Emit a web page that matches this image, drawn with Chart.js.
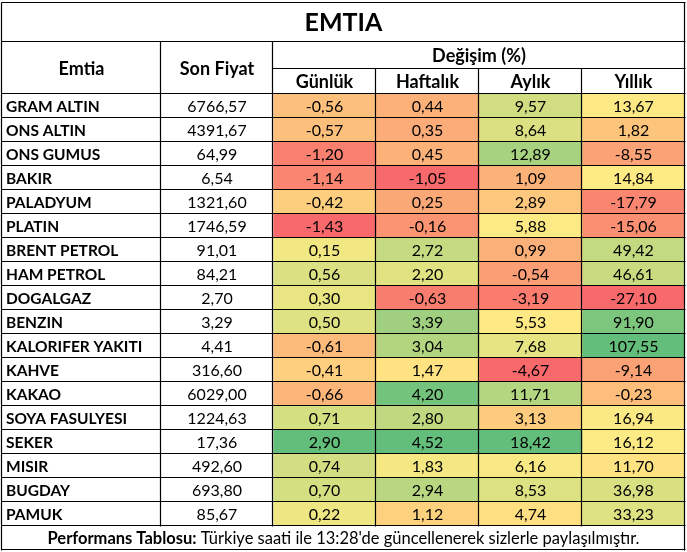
<!DOCTYPE html>
<html><head><meta charset="utf-8">
<script src="https://cdn.jsdelivr.net/npm/chart.js@4"></script>
<style>html,body{margin:0;padding:0;background:#fff;}canvas{display:block}</style>
</head><body>
<canvas id="c" width="687" height="552"></canvas>
<script>
const title = 'EMTIA';
const headerGroup = 'Değişim (%)';
const columnHeaders = ['Emtia', 'Son Fiyat', 'Günlük', 'Haftalık', 'Aylık', 'Yıllık'];
const footerBold = 'Performans Tablosu:';
const footerText = " Türkiye saati ile 13:28'de güncellenerek sizlerle paylaşılmıştır.";

const emtia = ['GRAM ALTIN','ONS ALTIN','ONS GUMUS','BAKIR','PALADYUM','PLATIN','BRENT PETROL','HAM PETROL','DOGALGAZ','BENZIN','KALORIFER YAKITI','KAHVE','KAKAO','SOYA FASULYESI','SEKER','MISIR','BUGDAY','PAMUK'];
const sonFiyat = [6766.57,4391.67,64.99,6.54,1321.60,1746.59,91.01,84.21,2.70,3.29,4.41,316.60,6029.00,1224.63,17.36,492.60,693.80,85.67];
const gunluk = [-0.56,-0.57,-1.20,-1.14,-0.42,-1.43,0.15,0.56,0.30,0.50,-0.61,-0.41,-0.66,0.71,2.90,0.74,0.70,0.22];
const haftalik = [0.44,0.35,0.45,-1.05,0.25,-0.16,2.72,2.20,-0.63,3.39,3.04,1.47,4.20,2.80,4.52,1.83,2.94,1.12];
const aylik = [9.57,8.64,12.89,1.09,2.89,5.88,0.99,-0.54,-3.19,5.53,7.68,-4.67,11.71,3.13,18.42,6.16,8.53,4.74];
const yillik = [13.67,1.82,-8.55,14.84,-17.79,-15.06,49.42,46.61,-27.10,91.90,107.55,-9.14,-0.23,16.94,16.12,11.70,36.98,33.23];

// layout (column boundaries in scale units)
const colEdges = [0, 159, 271, 374, 477, 580, 683];
const FONT = 'Lato';

function fmt(v) { return v.toFixed(2).replace('.', ','); }
function median(a) { const s = [...a].sort((x, y) => x - y); const n = s.length; return n % 2 ? s[(n - 1) / 2] : (s[n / 2 - 1] + s[n / 2]) / 2; }
const RED = [248, 105, 107], YEL = [255, 235, 132], GRN = [99, 190, 123];
function scaleColor(v, arr) {
  const mn = Math.min(...arr), mx = Math.max(...arr), md = median(arr);
  let a, b, t;
  if (v <= md) { a = RED; b = YEL; t = md === mn ? 1 : (v - mn) / (md - mn); }
  else { a = YEL; b = GRN; t = mx === md ? 0 : (v - md) / (mx - md); }
  const c = a.map((x, i) => Math.round(x + (b[i] - x) * t));
  return 'rgb(' + c.join(',') + ')';
}

const columns = [
  { texts: emtia, values: null, align: 'left', bold: true },
  { texts: sonFiyat.map(fmt), values: null },
  { texts: gunluk.map(fmt), values: gunluk },
  { texts: haftalik.map(fmt), values: haftalik },
  { texts: aylik.map(fmt), values: aylik },
  { texts: yillik.map(fmt), values: yillik },
];

const datasets = columns.map((col, c) => ({
  data: emtia.map(() => [colEdges[c], colEdges[c + 1]]),
  backgroundColor: col.values ? col.values.map(v => scaleColor(v, col.values)) : '#ffffff',
  borderWidth: 0,
  grouped: false,
  barPercentage: 1,
  categoryPercentage: 1,
}));

const tablePlugin = {
  id: 'tablePlugin',
  afterDraw(chart) {
    const ctx = chart.ctx;
    const xs = chart.scales.x, ys = chart.scales.y;
    const X = e => xs.getPixelForValue(e);
    const Y = i => ys.getPixelForValue(i);
    const left = X(colEdges[0]), right = X(colEdges[6]);
    const rowBottom = Y(emtia.length - 0.5);
    const tableTop = 3, titleBottom = 42, groupBottom = 69, tableBottom = 550;
    ctx.save();
    ctx.fillStyle = '#000';
    ctx.textBaseline = 'middle';
    // cell texts
    columns.forEach((col, c) => {
      const meta = chart.getDatasetMeta(c);
      ctx.font = (col.bold ? 'bold 15.5px ' : '16px ') + FONT;
      meta.data.forEach((el, i) => {
        const p = el.getProps(['x', 'base', 'y'], true);
        const l = Math.min(p.x, p.base), r = Math.max(p.x, p.base);
        if (col.align === 'left') { ctx.textAlign = 'left'; ctx.fillText(col.texts[i], l + 4, p.y + 1); }
        else { ctx.textAlign = 'center'; ctx.fillText(col.texts[i], (l + r) / 2, p.y + 1); }
      });
    });
    // title
    ctx.textAlign = 'center';
    ctx.font = 'bold 25px ' + FONT;
    ctx.fillText(title, (left + right) / 2, 23);
    // headers
    ctx.font = 'bold 18px ' + FONT;
    ctx.fillText(columnHeaders[0], (X(colEdges[0]) + X(colEdges[1])) / 2, 69);
    ctx.fillText(columnHeaders[1], (X(colEdges[1]) + X(colEdges[2])) / 2, 69);
    ctx.fillText(headerGroup, (X(colEdges[2]) + X(colEdges[6])) / 2, 56);
    for (let c = 2; c < 6; c++) ctx.fillText(columnHeaders[c], (X(colEdges[c]) + X(colEdges[c + 1])) / 2, 82.5);
    // footer
    const fs = 16.5;
    ctx.font = 'bold ' + fs + 'px ' + FONT;
    const wb = ctx.measureText(footerBold).width;
    ctx.font = fs + 'px ' + FONT;
    const wn = ctx.measureText(footerText).width;
    const fx = (left + right) / 2 - (wb + wn) / 2;
    ctx.textAlign = 'left';
    ctx.font = 'bold ' + fs + 'px ' + FONT;
    ctx.fillText(footerBold, fx, 539);
    ctx.font = fs + 'px ' + FONT;
    ctx.fillText(footerText, fx + wb, 539);
    // grid lines
    ctx.strokeStyle = '#000';
    ctx.lineWidth = 1.2;
    const h = (y, x1, x2) => { const yy = Math.round(y) - 0.5; ctx.beginPath(); ctx.moveTo(x1 - 0.5, yy); ctx.lineTo(x2 + 0.5, yy); ctx.stroke(); };
    const v = (x, y1, y2) => { const xx = Math.round(x) - 0.5; ctx.beginPath(); ctx.moveTo(xx, y1 - 0.5); ctx.lineTo(xx, y2 + 0.5); ctx.stroke(); };
    h(tableTop, left, right);
    h(titleBottom, left, right);
    h(groupBottom, X(colEdges[2]), right);
    for (let i = 0; i <= emtia.length; i++) h(Y(i - 0.5), left, right);
    h(tableBottom, left, right);
    v(left, tableTop, tableBottom);
    v(right, tableTop, tableBottom);
    v(X(colEdges[1]), titleBottom, rowBottom);
    v(X(colEdges[2]), titleBottom, rowBottom);
    for (let c = 3; c < 6; c++) v(X(colEdges[c]), groupBottom, rowBottom);
    ctx.restore();
  }
};

new Chart(document.getElementById('c'), {
  type: 'bar',
  data: { labels: emtia, datasets },
  options: {
    indexAxis: 'y',
    responsive: false,
    animation: false,
    layout: { padding: { top: 94, bottom: 26, left: 2, right: 2 } },
    scales: {
      x: { type: 'linear', min: colEdges[0], max: colEdges[6], display: false },
      y: { type: 'category', display: false, offset: true },
    },
    plugins: { legend: { display: false }, tooltip: { enabled: false }, title: { display: false } },
  },
  plugins: [tablePlugin],
});
</script>
</body></html>
